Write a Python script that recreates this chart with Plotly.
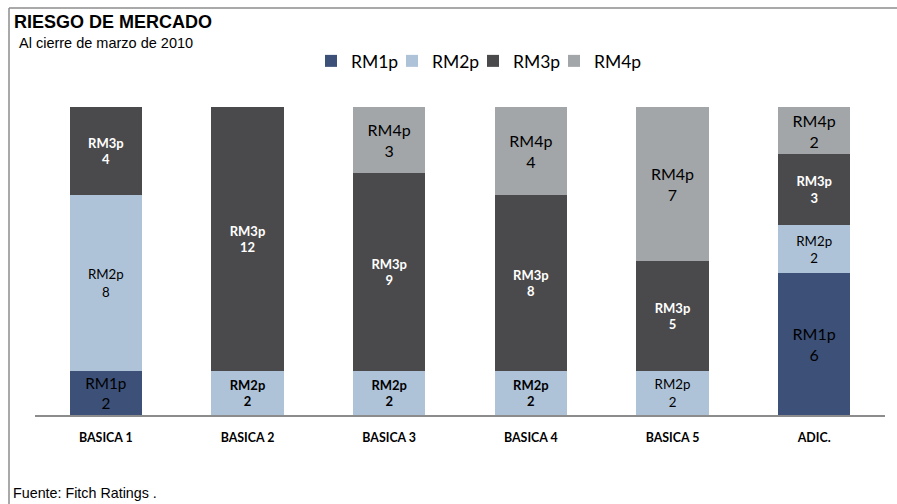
import plotly.graph_objects as go

categories = ["BASICA 1", "BASICA 2", "BASICA 3", "BASICA 4", "BASICA 5", "ADIC."]
series_names = ["RM1p", "RM2p", "RM3p", "RM4p"]
rm1p = [2, None, None, None, None, 6]
rm2p = [8, 2, 2, 2, 2, 2]
rm3p = [4, 12, 9, 8, 5, 3]
rm4p = [None, None, 3, 4, 7, 2]
series_values = [rm1p, rm2p, rm3p, rm4p]

colors = ["#3C5078", "#AFC3D8", "#4A4A4C", "#A3A6A9"]
text_colors = ["#000000", "#000000", "#FFFFFF", "#000000"]
# label style per series and category: "L" large regular, "R" regular, "B" bold
label_styles = [
    ["L", "L", "L", "L", "L", "L"],
    ["R", "B", "B", "B", "R", "R"],
    ["B", "B", "B", "B", "B", "B"],
    ["L", "L", "L", "L", "L", "L"],
]
style_size = {"L": 16, "R": 13.3, "B": 13}

CAL = "Lato, 'Open Sans', sans-serif"
ARIAL = "'Liberation Sans', Arial, sans-serif"

fig = go.Figure()
for name, vals, col, tcol, styles in zip(series_names, series_values, colors, text_colors, label_styles):
    texts, sizes = [], []
    for v, s in zip(vals, styles):
        if v is None:
            texts.append("")
        elif s == "B":
            texts.append(f"<b>{name}<br>{v}</b>")
        else:
            texts.append(f"{name}<br>{v}")
        sizes.append(style_size[s])
    fig.add_trace(go.Bar(
        name=name, x=categories, y=vals, marker=dict(color=col, line=dict(width=0)),
        text=texts, textposition="inside", insidetextanchor="middle", textangle=0,
        textfont=dict(family=CAL, size=sizes, color=tcol),
        hoverinfo="skip",
    ))

# invisible legend spacer so the last legend label is not clipped
fig.add_trace(go.Bar(name=" ", x=[categories[0]], y=[None], visible="legendonly", opacity=0,
                     marker=dict(color="rgba(0,0,0,0)", opacity=0,
                                 line=dict(width=0, color="rgba(0,0,0,0)")),
                     hoverinfo="skip"))

W, H = 897, 504
L, R, T, B = 35, 12, 107, 89
pw, ph = W - L - R, H - T - B

def px(x):
    return (x - L) / pw

def py(y):
    return (H - B - y) / ph

fig.update_layout(
    width=W, height=H, barmode="stack", barnorm="percent", bargap=0.49,
    margin=dict(l=L, r=R, t=T, b=B),
    paper_bgcolor="white", plot_bgcolor="white",
    showlegend=True,
    legend=dict(orientation="h", x=px(311), xanchor="left", y=py(61), yanchor="middle",
                font=dict(family=CAL, size=17.5, color="#000000"),
                entrywidth=36, entrywidthmode="pixels", traceorder="normal",
                bgcolor="rgba(0,0,0,0)"),
    xaxis=dict(showline=True, linecolor="#8C8C8C", linewidth=1.5, ticks="",
               tickfont=dict(family=CAL, size=12.4, color="#000000", weight="bold"),
               ticklabelstandoff=10,
               showgrid=False, fixedrange=True),
    yaxis=dict(visible=False, range=[0, 100], fixedrange=True),
    shapes=[
        dict(type="line", xref="paper", yref="paper", x0=px(9), x1=px(W + 5), y0=py(8), y1=py(8),
             line=dict(color="#8C8C8C", width=1.5)),
        dict(type="line", xref="paper", yref="paper", x0=px(9), x1=px(9), y0=py(8), y1=py(H + 5),
             line=dict(color="#8C8C8C", width=1.5)),
    ],
    annotations=[
        dict(text="<b>RIESGO DE MERCADO</b>", xref="paper", yref="paper", x=px(12), y=py(22),
             xanchor="left", yanchor="middle", showarrow=False,
             font=dict(family=ARIAL, size=18, color="#000000")),
        dict(text="Al cierre de marzo de 2010", xref="paper", yref="paper", x=px(17), y=py(43),
             xanchor="left", yanchor="middle", showarrow=False,
             font=dict(family=ARIAL, size=14.5, color="#000000")),
        dict(text="Fuente: Fitch Ratings .", xref="paper", yref="paper", x=px(11), y=py(493),
             xanchor="left", yanchor="middle", showarrow=False,
             font=dict(family=ARIAL, size=14.3, color="#000000")),
    ],
)

fig.write_html("out.html")
